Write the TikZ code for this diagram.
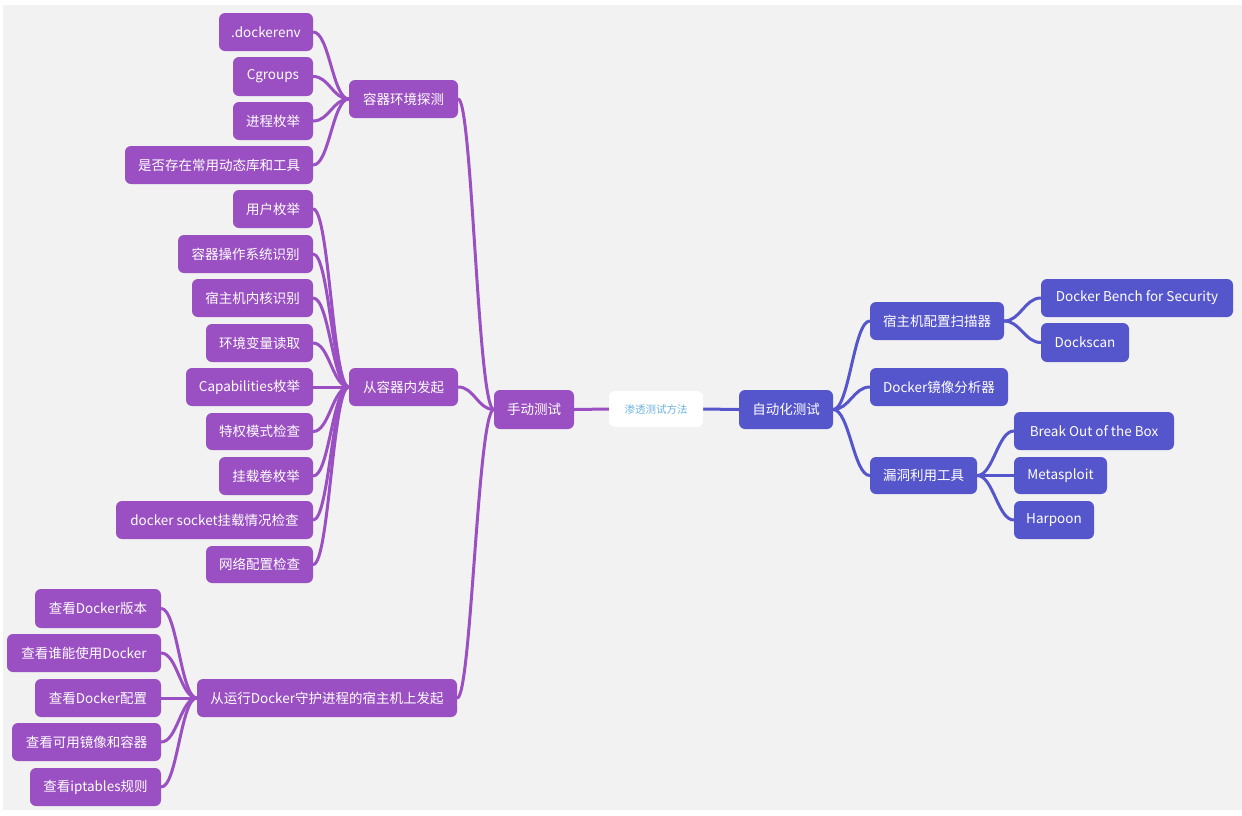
\documentclass[tikz,border=0pt]{standalone}
\usepackage{fontspec}
\usetikzlibrary{backgrounds}
\setmainfont{Noto Sans CJK SC}
\definecolor{bgc}{HTML}{F2F2F2}
\definecolor{pur}{HTML}{9A50C2}
\definecolor{blu}{HTML}{5656CC}
\definecolor{ctxt}{HTML}{6FB3E0}
\tikzset{
  box/.style={rounded corners=6pt, inner sep=0pt, text=white, font=\fontsize{13.5}{16}\selectfont, align=center},
  pbox/.style={box, fill=pur},
  bbox/.style={box, fill=blu},
  cbox/.style={box, fill=white, text=ctxt, font=\fontsize{10.5}{12}\selectfont},
  pl/.style={draw=pur, line width=3pt, line cap=round},
  bl/.style={draw=blu, line width=3pt, line cap=round},
}
\newcommand\bx[7]{\node[#1, minimum width={(#4-#3)*1pt}, minimum height={(#6-#5)*1pt}] (#2) at ({(#3+#4)/2},{(#5+#6)/2}) {#7};}
\begin{document}
\begin{tikzpicture}[x=1pt,y=-1pt]
\useasboundingbox (0,0) rectangle (1242,815);
\begin{scope}[on background layer]
\fill[white] (0,0) rectangle (1242,815);
\fill[bgc] (3,5) rectangle (1242,810);
\end{scope}
% purple nodes
\bx{pbox}{d1}{219}{313}{13}{51}{.dockerenv}
\bx{pbox}{d2}{233}{313}{57}{96}{Cgroups}
\bx{pbox}{d3}{233}{313}{102}{140}{进程枚举}
\bx{pbox}{d4}{125}{313}{146}{184}{是否存在常用动态库和工具}
\bx{pbox}{g1}{349}{458}{80}{118}{容器环境探测}
\bx{pbox}{u1}{233}{313}{190}{228}{用户枚举}
\bx{pbox}{u2}{178}{313}{235}{273}{容器操作系统识别}
\bx{pbox}{u3}{192}{313}{279}{317}{宿主机内核识别}
\bx{pbox}{u4}{206}{313}{324}{362}{环境变量读取}
\bx{pbox}{u5}{186}{313}{368}{406}{Capabilities枚举}
\bx{pbox}{u6}{206}{313}{413}{450}{特权模式检查}
\bx{pbox}{u7}{219}{313}{457}{495}{挂载卷枚举}
\bx{pbox}{u8}{116}{313}{501}{539}{docker socket挂载情况检查}
\bx{pbox}{u9}{206}{313}{546}{583}{网络配置检查}
\bx{pbox}{g2}{349}{458}{368}{406}{从容器内发起}
\bx{pbox}{h1}{35}{161}{589}{628}{查看Docker版本}
\bx{pbox}{h2}{7}{161}{634}{672}{查看谁能使用Docker}
\bx{pbox}{h3}{35}{161}{679}{717}{查看Docker配置}
\bx{pbox}{h4}{12}{161}{723}{761}{查看可用镜像和容器}
\bx{pbox}{h5}{30}{161}{768}{806}{查看iptables规则}
\bx{pbox}{g3}{197}{457}{679}{717}{从运行Docker守护进程的宿主机上发起}
\bx{pbox}{m}{494}{574}{390}{429}{手动测试}
\bx{cbox}{c}{609}{703}{391}{427}{渗透测试方法}
% blue nodes
\bx{bbox}{a}{739}{833}{390}{429}{自动化测试}
\bx{bbox}{r1}{870}{1004}{302}{340}{宿主机配置扫描器}
\bx{bbox}{r11}{1041}{1233}{279}{317}{Docker Bench for Security}
\bx{bbox}{r12}{1041}{1129}{323}{362}{Dockscan}
\bx{bbox}{r2}{870}{1008}{368}{406}{Docker镜像分析器}
\bx{bbox}{r3}{870}{977}{457}{494}{漏洞利用工具}
\bx{bbox}{r31}{1014}{1174}{412}{450}{Break Out of the Box}
\bx{bbox}{r32}{1014}{1107}{457}{494}{Metasploit}
\bx{bbox}{r33}{1014}{1094}{501}{539}{Harpoon}
% connectors
\begin{scope}[on background layer]
\foreach \n in {d1,d2,d3,d4}{\draw[pl] (\n.east) .. controls +(16,0) and +(-16,0) .. (g1.west);}
\foreach \n in {u1,u2,u3,u4,u5,u6,u7,u8,u9}{\draw[pl] (\n.east) .. controls +(16,0) and +(-16,0) .. (g2.west);}
\foreach \n in {h1,h2,h3,h4,h5}{\draw[pl] (\n.east) .. controls +(16,0) and +(-16,0) .. (g3.west);}
\draw[pl] (g1.east) .. controls +(14,0) and +(-16,0) .. (m.west);
\draw[pl] (g2.east) .. controls +(16,0) and +(-16,0) .. (m.west);
\draw[pl] (g3.east) .. controls +(14,0) and +(-16,0) .. (m.west);
\draw[pl] (m.east) -- (c.west);
\draw[bl] (c.east) -- (a.west);
\foreach \n in {r1,r2,r3}{\draw[bl] (a.east) .. controls +(16,0) and +(-16,0) .. (\n.west);}
\foreach \n in {r11,r12}{\draw[bl] (r1.east) .. controls +(16,0) and +(-16,0) .. (\n.west);}
\foreach \n in {r31,r32,r33}{\draw[bl] (r3.east) .. controls +(16,0) and +(-16,0) .. (\n.west);}
\end{scope}
\end{tikzpicture}
\end{document}
